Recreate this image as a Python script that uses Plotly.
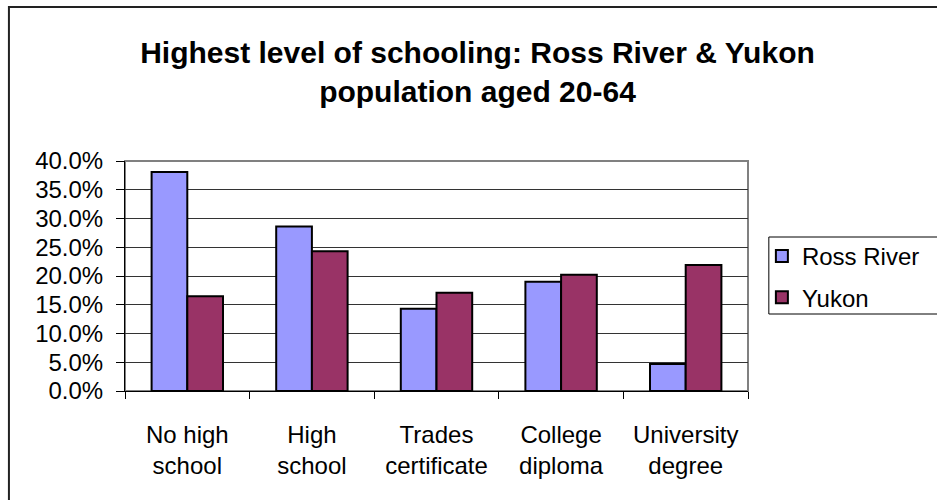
import plotly.graph_objects as go

categories = ["No high<br>school", "High<br>school", "Trades<br>certificate", "College<br>diploma", "University<br>degree"]
ross_river = [38.1, 28.6, 14.3, 19.0, 4.7]
yukon = [16.5, 24.3, 17.1, 20.2, 21.9]
y_ticks = [0, 5, 10, 15, 20, 25, 30, 35, 40]
y_ticktext = [f"{v:.1f}%" for v in y_ticks]

FONT = "Liberation Sans, Arial, sans-serif"

fig = go.Figure()
fig.add_trace(go.Bar(name="Ross River", x=categories, y=ross_river,
                     marker=dict(color="#9999FF", line=dict(color="black", width=2)),
                     legendgroup="a"))
fig.add_trace(go.Bar(name="Yukon", x=categories, y=yukon,
                     marker=dict(color="#993366", line=dict(color="black", width=2)),
                     legendgroup="b"))

L, R, T, B = 125, 184, 161, 109
W, H = 937, 500
pw, ph = W - L - R, H - T - B

def px(xp):
    return (xp - L) / pw

def py(yp):
    return (H - B - yp) / ph

fig.update_layout(
    width=W, height=H,
    margin=dict(l=L, r=R, t=T, b=B),
    paper_bgcolor="white", plot_bgcolor="white",
    font=dict(family=FONT, size=24, color="black"),
    barmode="group", bargap=0.427, bargroupgap=0,
    title=dict(text="<b>Highest level of schooling: Ross River & Yukon<br>population aged 20-64</b>",
               x=0.5096, xanchor="center", y=0.874, yanchor="middle",
               font=dict(family=FONT, size=30, color="black")),
    legend=dict(x=px(767), xanchor="left", y=py(234), yanchor="top",
                borderwidth=0, bgcolor="rgba(0,0,0,0)",
                font=dict(family=FONT, size=24), tracegroupgap=7,
                traceorder="grouped"),
    xaxis=dict(showline=True, linecolor="black", linewidth=1,
               ticks="outside", ticklen=7, tickcolor="black", tickson="boundaries",
               showgrid=False, tickfont=dict(size=24), ticklabelstandoff=22),
    yaxis=dict(range=[0, 40], tickvals=y_ticks, ticktext=y_ticktext,
               showline=True, linecolor="black", linewidth=1,
               ticks="outside", ticklen=8, tickcolor="black",
               showgrid=True, gridcolor="#333333", gridwidth=1,
               zeroline=False, ticklabelstandoff=8, tickfont=dict(size=24)),
    shapes=[
        dict(type="rect", xref="paper", yref="paper", x0=0, x1=1, y0=0, y1=1,
             line=dict(color="#808080", width=2), layer="below"),
        dict(type="rect", xref="paper", yref="paper", x0=px(8), x1=px(1050), y0=py(600), y1=py(7),
             line=dict(color="#222222", width=2), layer="below"),
        dict(type="rect", xref="paper", yref="paper", x0=px(774), x1=px(1050), y0=py(314), y1=py(237),
             line=dict(color="black", width=1), fillcolor="rgba(0,0,0,0)", layer="below"),
    ],
)

fig.write_html("out.html")
